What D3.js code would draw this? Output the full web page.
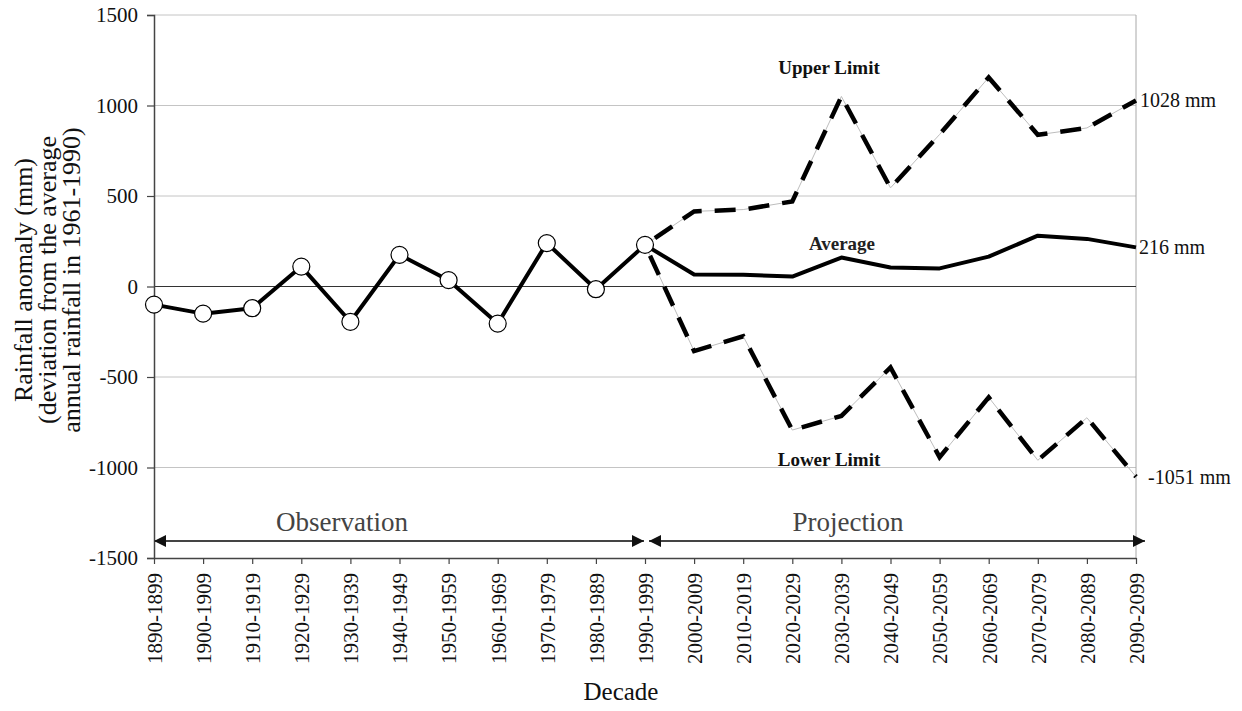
<!DOCTYPE html>
<html>
<head>
<meta charset="utf-8">
<script src="https://cdn.jsdelivr.net/npm/d3@7"></script>
<style>
  html, body { margin: 0; padding: 0; background: #fff; }
  svg { display: block; }
  text { font-family: "Liberation Serif", "Times New Roman", serif; }
</style>
</head>
<body>
<svg id="chart" width="1242" height="711"></svg>
<script>
// Decade categories
const decades = [
  "1890-1899","1900-1909","1910-1919","1920-1929","1930-1939","1940-1949",
  "1950-1959","1960-1969","1970-1979","1980-1989","1990-1999","2000-2009",
  "2010-2019","2020-2029","2030-2039","2040-2049","2050-2059","2060-2069",
  "2070-2079","2080-2089","2090-2099"
];
// Observed anomaly, 1890s to 1990s (mm)
const observed = [-100, -150, -120, 110, -195, 175, 35, -205, 240, -15, 230];
// Projected anomalies, 1990s to 2090s (mm)
const projDecades = decades.slice(10);
const projAverage = [230, 66, 65, 55, 160, 105, 100, 165, 281, 263, 216];
const projUpper   = [230, 415, 425, 470, 1050, 545, 840, 1155, 838, 876, 1028];
const projLower   = [230, -357, -275, -793, -715, -447, -943, -612, -960, -725, -1051];
const yTicks = [-1500, -1000, -500, 0, 500, 1000, 1500];
const yTitleLines = ["Rainfall anomaly (mm)", "(deviation from the average", "annual rainfall in 1961-1990)"];

const svg = d3.select("#chart");
const plotLeft = 154, plotRight = 1136, plotTop = 15, plotBottom = 558;

const x = d3.scalePoint().domain(decades).range([plotLeft, plotRight]);
const y = d3.scaleLinear().domain([-1500, 1500]).range([plotBottom, plotTop]);

// gridlines
svg.append("g").selectAll("line")
  .data(yTicks.filter(v => v !== 0 && v !== -1500))
  .join("line")
  .attr("x1", plotLeft).attr("x2", plotRight)
  .attr("y1", d => y(d)).attr("y2", d => y(d))
  .attr("stroke", "#c4c4c4").attr("stroke-width", 1);

// right frame
svg.append("line")
  .attr("x1", plotRight).attr("x2", plotRight).attr("y1", plotTop).attr("y2", plotBottom)
  .attr("stroke", "#a8a8a8").attr("stroke-width", 1);

// zero line
svg.append("line")
  .attr("x1", plotLeft).attr("x2", plotRight).attr("y1", y(0)).attr("y2", y(0))
  .attr("stroke", "#333").attr("stroke-width", 1.2);

// y axis
const yAxis = svg.append("g")
  .attr("transform", `translate(${plotLeft},0)`)
  .call(d3.axisLeft(y).tickValues(yTicks).tickSize(7).tickPadding(9).tickFormat(d3.format("d")));
yAxis.select(".domain").attr("stroke", "#444").attr("stroke-width", 1.5);
yAxis.selectAll(".tick line").attr("stroke", "#444").attr("stroke-width", 1.2);
yAxis.selectAll("text").attr("font-size", 21).attr("fill", "#111")
  .style("font-family", "'Liberation Serif', serif")
  .text(d => d3.format("d")(d).replace("\u2212", "-"));

// x axis
const xAxis = svg.append("g")
  .attr("transform", `translate(0,${plotBottom})`)
  .call(d3.axisBottom(x).tickSize(6).tickSizeOuter(0));
xAxis.select(".domain").attr("stroke", "#444").attr("stroke-width", 1.5);
xAxis.selectAll(".tick line").attr("stroke", "#444").attr("stroke-width", 1.2);
xAxis.selectAll("text")
  .attr("font-size", 21).attr("fill", "#111")
  .style("font-family", "'Liberation Serif', serif")
  .attr("text-anchor", "end")
  .attr("transform", "rotate(-90)")
  .attr("x", -15).attr("y", 0).attr("dy", "0.35em");

// axis titles
yTitleLines.forEach((t, i) => {
  svg.append("text")
    .attr("transform", `translate(${32 + i * 24},280) rotate(-90)`)
    .attr("text-anchor", "middle").attr("font-size", 26).attr("fill", "#111").text(t);
});

svg.append("text").attr("x", 621).attr("y", 700)
  .attr("text-anchor", "middle").attr("font-size", 25).attr("fill", "#111").text("Decade");

// period arrows
const defs = svg.append("defs");
defs.append("marker").attr("id", "arrowEnd").attr("viewBox", "0 0 10 10")
  .attr("refX", 10).attr("refY", 5).attr("markerWidth", 12).attr("markerHeight", 12)
  .attr("markerUnits", "userSpaceOnUse").attr("orient", "auto")
  .append("path").attr("d", "M0,0 L10,5 L0,10 Z").attr("fill", "#111");
defs.append("marker").attr("id", "arrowStart").attr("viewBox", "0 0 10 10")
  .attr("refX", 0).attr("refY", 5).attr("markerWidth", 12).attr("markerHeight", 12)
  .attr("markerUnits", "userSpaceOnUse").attr("orient", "auto")
  .append("path").attr("d", "M10,0 L0,5 L10,10 Z").attr("fill", "#111");

const arrowY = 541;
svg.append("line")
  .attr("x1", x(decades[0])).attr("x2", x("1990-1999") - 1)
  .attr("y1", arrowY).attr("y2", arrowY)
  .attr("stroke", "#444").attr("stroke-width", 2)
  .attr("marker-start", "url(#arrowStart)").attr("marker-end", "url(#arrowEnd)");
svg.append("line")
  .attr("x1", x("1990-1999") + 4).attr("x2", plotRight + 9)
  .attr("y1", arrowY).attr("y2", arrowY)
  .attr("stroke", "#444").attr("stroke-width", 2)
  .attr("marker-start", "url(#arrowStart)").attr("marker-end", "url(#arrowEnd)");

svg.append("text").attr("x", 342).attr("y", 531).attr("text-anchor", "middle")
  .attr("font-size", 27).attr("fill", "#444").text("Observation");
svg.append("text").attr("x", 848).attr("y", 531).attr("text-anchor", "middle")
  .attr("font-size", 27).attr("fill", "#444").text("Projection");

// lines
const line = d3.line().x(d => x(d[0])).y(d => y(d[1]));
const pairs = (cats, vals) => cats.map((c, i) => [c, vals[i]]);

// upper and lower limits: thin grey path under a heavy black dash
[projUpper, projLower].forEach(vals => {
  const p = pairs(projDecades, vals);
  svg.append("path").datum(p).attr("d", line)
    .attr("fill", "none").attr("stroke", "#bdbdbd").attr("stroke-width", 1);
  svg.append("path").datum(p).attr("d", line)
    .attr("fill", "none").attr("stroke", "#000").attr("stroke-width", 4.5)
    .attr("stroke-dasharray", "21 13").attr("stroke-dashoffset", -12);
});

// projected average
svg.append("path").datum(pairs(projDecades, projAverage)).attr("d", line)
  .attr("fill", "none").attr("stroke", "#000").attr("stroke-width", 4)
  .attr("stroke-linejoin", "round");

// observed series
const obsPts = pairs(decades.slice(0, observed.length), observed);
svg.append("path").datum(obsPts).attr("d", line)
  .attr("fill", "none").attr("stroke", "#000").attr("stroke-width", 4)
  .attr("stroke-linejoin", "round");
svg.append("g").selectAll("circle").data(obsPts).join("circle")
  .attr("cx", d => x(d[0])).attr("cy", d => y(d[1])).attr("r", 8.5)
  .attr("fill", "#fff").attr("stroke", "#000").attr("stroke-width", 1.2);

// series labels
svg.append("text").attr("x", 829).attr("y", 74).attr("text-anchor", "middle")
  .attr("font-size", 19).attr("font-weight", "bold").attr("fill", "#111").text("Upper Limit");
svg.append("text").attr("x", 842).attr("y", 250).attr("text-anchor", "middle")
  .attr("font-size", 19).attr("font-weight", "bold").attr("fill", "#222").text("Average");
svg.append("text").attr("x", 829).attr("y", 466).attr("text-anchor", "middle")
  .attr("font-size", 19).attr("font-weight", "bold").attr("fill", "#111").text("Lower Limit");

const last = decades[decades.length - 1];
svg.append("text").attr("x", x(last) + 4).attr("y", y(projUpper[10])).attr("dy", "0.35em")
  .attr("font-size", 20).attr("fill", "#111").text(`${projUpper[10]} mm`);
svg.append("text").attr("x", x(last) + 3).attr("y", y(projAverage[10])).attr("dy", "0.35em")
  .attr("font-size", 20).attr("fill", "#111").text(`${projAverage[10]} mm`);
svg.append("text").attr("x", x(last) + 12).attr("y", y(projLower[10])).attr("dy", "0.35em")
  .attr("font-size", 20).attr("fill", "#111").text(`${projLower[10]} mm`);
</script>
</body>
</html>
